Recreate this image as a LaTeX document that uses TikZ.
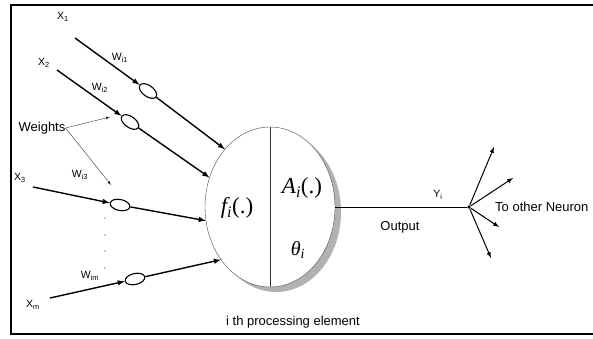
\documentclass[tikz,border=0pt]{standalone}
\usepackage{fontspec}
\setmainfont{Liberation Sans}
\newfontfamily\serifface{Liberation Serif}
\usetikzlibrary{shapes.geometric,arrows}

\begin{document}
\begin{tikzpicture}[x=1pt,y=-1pt,>=latex]
        \tikzstyle{input line}=[->,line width=1.4pt]
        \tikzstyle{weight}=[ellipse,draw,line width=1.1pt,fill=white,minimum width=20pt,minimum height=11pt,inner sep=0pt]
        \tikzstyle{lbl}=[font=\fontsize{10.5}{11}\selectfont,inner sep=0pt]
        \tikzstyle{annot}=[font=\fontsize{13}{14}\selectfont,inner sep=0pt]
        \tikzstyle{func}=[font=\fontsize{23}{24}\selectfont\serifface,inner sep=0pt]
        \useasboundingbox (0,0) rectangle (593,338);
        \draw[line width=2pt] (600,5) -| (11,334) -- (600,334);
        % processing element
        \fill[black!30] (276,212) ellipse (65 and 80);
        \node[ellipse,draw=black!70,fill=white,minimum width=130pt,minimum height=160pt,inner sep=0pt] (N) at (270,207) {};
        \draw[black!80] (N.north) -- (N.south);
        \node[func] (f) at (237,208) {\itshape f\textsubscript{\itshape i}\upshape(.)};
        \node[func] (A) at (302,188) {\itshape A\textsubscript{\itshape i}\upshape(.)};
        \node[func,font=\fontsize{20}{21}\selectfont\serifface] (th) at (298,250) {\itshape θ\textsubscript{\itshape i}};
        \node[annot] (pe) at (293,322) {i th processing element};
        % inputs
        \coordinate (s1) at (75,38);
        \coordinate (s2) at (57,70);
        \coordinate (s3) at (33,187);
        \coordinate (sm) at (50,298);
        \node[weight,rotate=-36] (w1) at (148,91) {};
        \node[weight,rotate=-35.6] (w2) at (130,122) {};
        \node[weight,rotate=-11.6] (w3) at (120,205) {};
        \node[weight,rotate=12.6] (wm) at (135,279) {};
        \draw[input line] (s1) -- (w1);
        \draw[input line] (w1) -- (N.128);
        \draw[input line] (s2) -- (w2);
        \draw[input line] (w2) -- (N.154);
        \draw[input line] (s3) -- (w3);
        \draw[input line] (w3) -- (N.192);
        \draw[input line] (sm) -- (wm);
        \draw[input line] (wm) -- (N.227);
        \node[lbl] (x1) at (63,17) {X\textsubscript{1}};
        \node[lbl] (x2) at (44,63) {X\textsubscript{2}};
        \node[lbl] (x3) at (20,178) {X\textsubscript{3}};
        \node[lbl] (xm) at (33,305) {X\textsubscript{m}};
        \node[lbl] (l1) at (120,58) {W\textsubscript{i1}};
        \node[lbl] (l2) at (100,88) {W\textsubscript{i2}};
        \node[lbl] (l3) at (80,175) {W\textsubscript{i3}};
        \node[lbl] (lm) at (90,276) {W\textsubscript{im}};
        \foreach \y in {218,235,251,268}
            \fill[black!40] (105,\y) circle (0.8);
        % weights pointers
        \node[annot] (wts) at (42,128) {Weights};
        \coordinate (p1) at (110,117);
        \coordinate (p2) at (111,185);
        \draw[->,black!80,thin] (wts.east) -- (p1);
        \draw[->,black!80,thin] (wts.east) -- (p2);
        % output
        \node[circle,fill,inner sep=1.4pt] (hub) at (469,207) {};
        \draw[line width=0.9pt] (N.east) -- (hub);
        \node[lbl] (y) at (438,195) {Y\textsubscript{i}};
        \node[annot] (out) at (400,227) {Output};
        \node[annot,anchor=west] (other) at (495,207) {To other Neuron};
        \coordinate (t1) at (494,147);
        \coordinate (t2) at (513,178);
        \coordinate (t3) at (499,227);
        \coordinate (t4) at (491,258);
        \foreach \t in {t1,t2,t3,t4}
            \draw[->,line width=1pt] (hub) -- (\t);
    \end{tikzpicture}
\end{document}
